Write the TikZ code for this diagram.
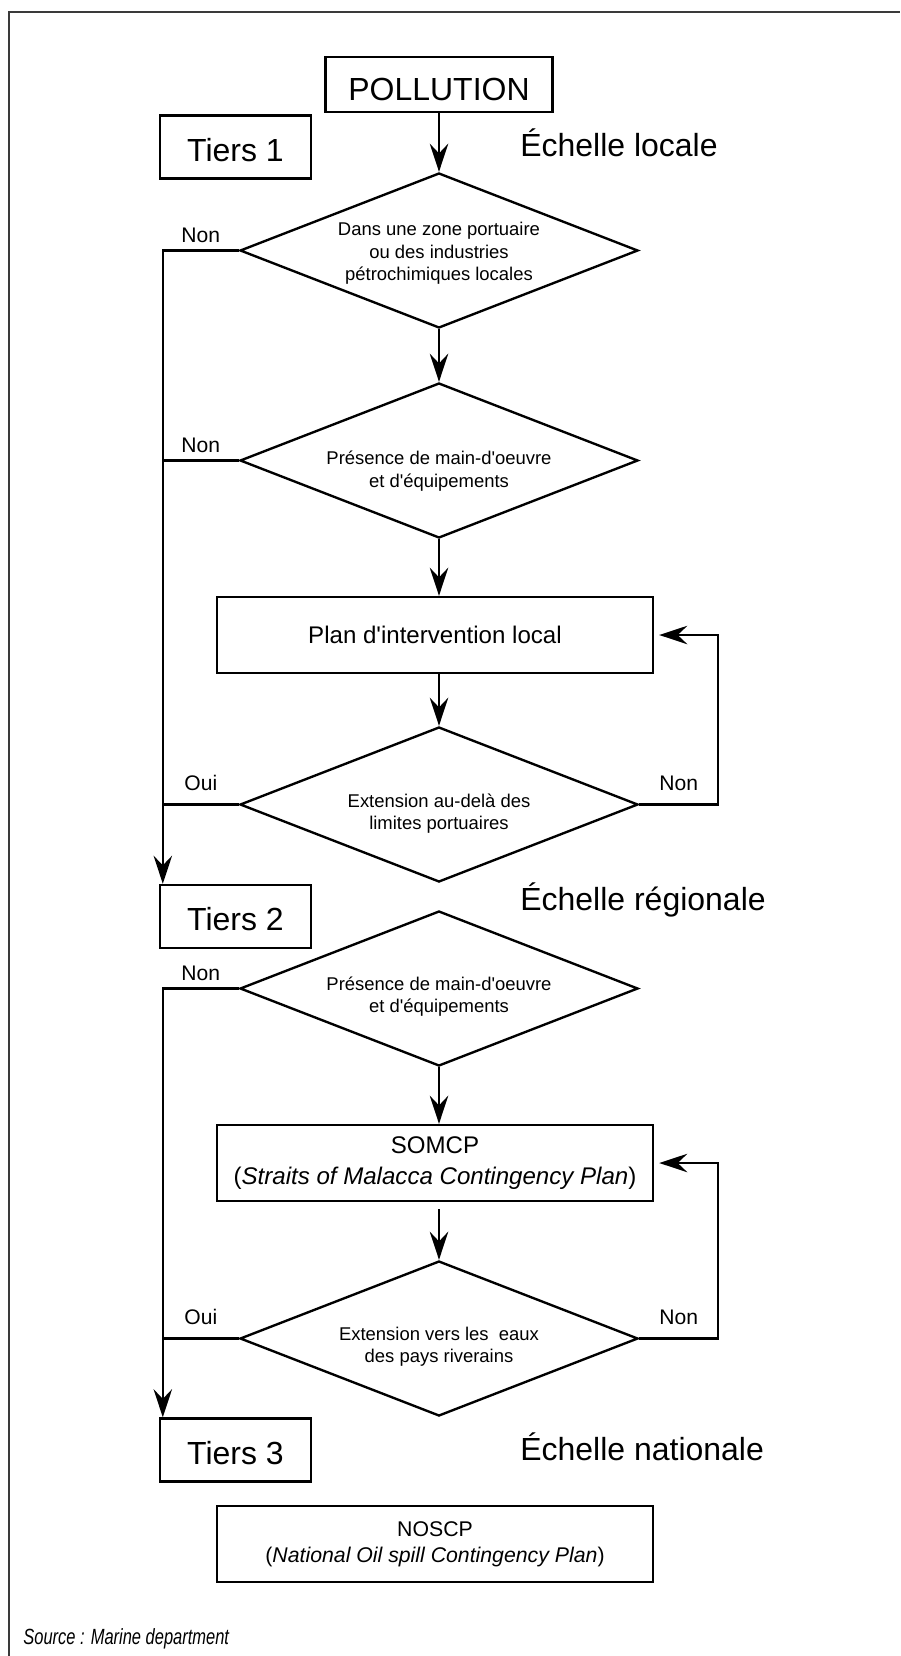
\documentclass[tikz,border=0pt]{standalone}
\usepackage{fontspec}
\setmainfont{Liberation Sans}
\newfontfamily\narrowsans[FakeStretch=0.75]{Liberation Sans}
\usepackage{tikz}
\usetikzlibrary{arrows.meta,shapes.geometric,calc}
\definecolor{flowink}{HTML}{000000}
\definecolor{flowframe}{HTML}{3A3A3A}
\tikzset{
  % connectors between the steps
  flow arrow/.style={
    draw=flowink, line width=1.35pt,
    -{Stealth[length=16pt,width=10.5pt,inset=5.5pt]},
  },
  flow line/.style={draw=flowink, line width=1.35pt},
  % yes / no questions
  flow test/.style={
    draw=flowink, line width=1.35pt, diamond, shape aspect=2.57,
    minimum width=79.6mm, minimum height=31mm, inner sep=0pt,
    align=center, font=\fontsize{10.5}{12.8}\selectfont,
  },
  % the contingency plans
  flow plan/.style={
    draw=flowink, line width=1.35pt, align=center,
    minimum width=87.2mm, minimum height=15.2mm,
  },
  % tier boxes on the left
  flow tier/.style={
    draw=flowink, line width=1.35pt, text height=16.4pt,
    minimum width=30.2mm, minimum height=12.6mm,
    font=\fontsize{18.2}{22}\selectfont,
  },
  % scale headings on the right
  flow scale/.style={anchor=base west, inner sep=0pt,
    font=\fontsize{18.2}{22}\selectfont},
  % oui / non on the branches
  flow answer/.style={font=\fontsize{12}{14}\selectfont, inner sep=4pt},
}

\begin{document}
\begin{tikzpicture}[x=0.2mm,y=-0.2mm]
  \useasboundingbox (0,0) rectangle (900,1656);
  \draw[draw=flowframe,line width=0.6pt] (9,1656) -- (9,12) -- (900,12);

  % ---- tier 1 : local scale ------------------------------------------------
  \node[draw=flowink,line width=1.35pt,minimum width=45.4mm,minimum height=11mm,
        text height=18.7pt,font=\fontsize{18.2}{22}\selectfont]
    (pollution) at (439,84.5) {POLLUTION};
  \node[flow tier] (tier1) at (235.5,147) {Tiers 1};
  \node[flow scale] (scale1) at (520,156) {Échelle locale};

  \node[flow test] (zone) at (439,250.5)
    {\rule{0pt}{11pt}Dans une zone portuaire\\ou des industries\\pétrochimiques locales};
  \node[flow test] (staff1) at (439,460.5)
    {\rule{0pt}{20pt}Présence de main-d\textquotesingle oeuvre\\et d\textquotesingle équipements};
  \node[flow plan,font=\fontsize{13.7}{16}\selectfont] (plan1) at (435,635)
    {Plan d\textquotesingle intervention local};
  \node[flow test] (spread1) at (439,804.5)
    {\rule{0pt}{18pt}Extension au-delà des\\limites portuaires};

  \draw[flow arrow] (pollution) -- (zone);
  \draw[flow arrow] (zone) -- (staff1);
  \draw[flow arrow] (staff1.south) -- (staff1.south |- plan1.north);
  \draw[flow arrow] (spread1.north |- plan1.south) -- (spread1.north);
  \draw[flow arrow,shorten >=1mm] (spread1.east) -- node[flow answer,above=3pt]{Non}
    ++(79,0) |- (plan1.east);

  % ---- tier 2 : regional scale ---------------------------------------------
  \node[flow tier] (tier2) at (235.5,916.5) {Tiers 2};
  \node[flow scale] (scale2) at (520,910) {Échelle régionale};
  \coordinate (trunk2) at ($(tier2.north west)+(4,0)$);

  \draw[flow arrow] (zone.west) -- node[flow answer,above]{Non}
    (zone.west -| trunk2) -- (trunk2);
  \draw[flow line] (staff1.west) -- node[flow answer,above]{Non} (staff1.west -| trunk2);
  \draw[flow line] (spread1.west) -- node[flow answer,above=3pt]{Oui} (spread1.west -| trunk2);

  \node[flow test] (staff2) at (439,988.5)
    {\rule{0pt}{17pt}Présence de main-d\textquotesingle oeuvre\\et d\textquotesingle équipements};
  \node[flow plan,font=\fontsize{13.7}{17.5}\selectfont] (plan2) at (435,1163)
    {SOMCP\\(\textit{Straits of Malacca Contingency Plan})};
  \node[flow test] (spread2) at (439,1338.5)
    {\rule{0pt}{17pt}Extension vers les\ \ eaux\\des pays riverains};

  \draw[flow arrow] (staff2.south) -- (staff2.south |- plan2.north);
  \draw[flow arrow,shorten <=1.4mm] (spread2.north |- plan2.south) -- (spread2.north);
  \draw[flow arrow,shorten >=1mm] (spread2.east) -- node[flow answer,above=3pt]{Non}
    ++(79,0) |- (plan2.east);

  % ---- tier 3 : national scale ---------------------------------------------
  \node[flow tier] (tier3) at (235.5,1450) {Tiers 3};
  \node[flow scale] (scale3) at (520,1460) {Échelle nationale};
  \coordinate (trunk3) at ($(tier3.north west)+(4,0)$);

  \draw[flow arrow] (staff2.west) -- node[flow answer,above]{Non}
    (staff2.west -| trunk3) -- (trunk3);
  \draw[flow line] (spread2.west) -- node[flow answer,above=3pt]{Oui} (spread2.west -| trunk3);

  \node[flow plan,font=\fontsize{12.1}{15}\selectfont] (plan3) at (435,1544)
    {NOSCP\\(\textit{National Oil spill Contingency Plan})};

  \node[anchor=base west,inner sep=0pt,font=\fontsize{12.5}{14}\narrowsans\itshape]
    (source) at (23,1644) {Source : Marine department};
\end{tikzpicture}
\end{document}
